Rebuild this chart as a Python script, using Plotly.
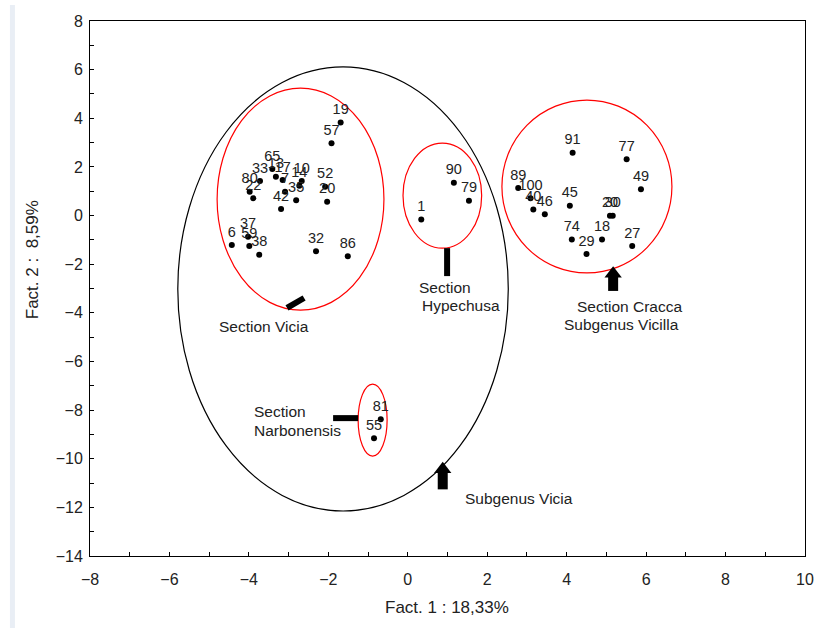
import plotly.graph_objects as go

# ---- data ----
point_labels = ["19", "57", "65", "33", "13", "17", "10", "14", "7", "35", "42", "52", "20",
                "80", "22", "6", "37", "59", "38", "32", "86",
                "1", "90", "79",
                "91", "77", "49", "89", "100", "40", "46", "45", "20", "30", "74", "18", "29", "27",
                "81", "55"]
fact1 = [-1.69, -1.92, -3.41, -3.72, -3.32, -3.15, -2.67, -2.73, -3.09, -2.81, -3.19, -2.08, -2.03,
         -3.98, -3.89, -4.43, -4.02, -3.99, -3.74, -2.31, -1.51,
         0.34, 1.16, 1.54,
         4.15, 5.51, 5.87, 2.78, 3.09, 3.16, 3.45, 4.08, 5.09, 5.16, 4.13, 4.89, 4.50, 5.65,
         -0.68, -0.85]
fact2 = [3.83, 2.97, 1.91, 1.42, 1.60, 1.46, 1.42, 1.23, 0.98, 0.63, 0.27, 1.18, 0.57,
         0.98, 0.71, -1.21, -0.87, -1.25, -1.61, -1.47, -1.67,
         -0.16, 1.35, 0.61,
         2.58, 2.32, 1.08, 1.13, 0.71, 0.25, 0.05, 0.40, -0.01, -0.01, -0.98, -0.98, -1.58, -1.25,
         -8.38, -9.16]

# ellipses: x0, x1, y0, y1, colour
ellipse_x0 = [-5.79, -4.80, -0.12, 2.37, -1.25]
ellipse_x1 = [2.53, -0.60, 1.86, 6.65, -0.52]
ellipse_y0 = [-12.15, -3.89, -1.34, -2.36, -9.89]
ellipse_y1 = [6.11, 5.24, 2.98, 4.75, -6.93]
ellipse_col = ["black", "red", "red", "red", "red"]

# pointer lines / arrows: tail -> tip
arrow_x0 = [-3.04, 0.99, -1.88, 5.17, 0.88]
arrow_y0 = [-3.80, -2.49, -8.33, -3.10, -11.26]
arrow_x1 = [-2.61, 0.99, -1.25, 5.17, 0.88]
arrow_y1 = [-3.39, -1.34, -8.33, -2.08, -10.12]
arrow_head = [False, False, False, True, True]

# group captions (one entry per line)
caption_text = ["Section Vicia", "Section", "Hypechusa", "Section Cracca", "Subgenus Vicilla",
                "Section", "Narbonensis", "Subgenus Vicia"]
caption_x = [-4.80, 0.22, 0.30, 4.21, 3.88, -3.92, -3.92, 1.39]
caption_y = [-4.58, -2.94, -3.68, -3.72, -4.50, -8.04, -8.82, -11.62]

x_title = "Fact. 1 : 18,33%"
y_title = "Fact. 2 :  8,59%"

FONT = "Liberation Sans, Arial, sans-serif"
TXT = "#222222"

fig = go.Figure()

# ellipses
for x0, x1, y0, y1, c in zip(ellipse_x0, ellipse_x1, ellipse_y0, ellipse_y1, ellipse_col):
    fig.add_shape(type="circle", xref="x", yref="y", x0=x0, x1=x1, y0=y0, y1=y1,
                  line=dict(color=c, width=1.2), layer="below")

# arrows / pointer bars
px_per_y = 535 / 22.0
for xa, ya, xb, yb, head in zip(arrow_x0, arrow_y0, arrow_x1, arrow_y1, arrow_head):
    if head:
        size = 15
        r = size / 2.0
        yc = yb - r / px_per_y            # marker centre so that tip sits at yb
        yshaft = yb - 9 / px_per_y
        fig.add_trace(go.Scatter(x=[xa, xb], y=[ya, yshaft], mode="lines",
                                 line=dict(color="black", width=10),
                                 hoverinfo="skip", showlegend=False))
        fig.add_trace(go.Scatter(x=[xb], y=[yc], mode="markers",
                                 marker=dict(symbol="triangle-up", size=size, color="black",
                                             line=dict(width=0)),
                                 hoverinfo="skip", showlegend=False))
    else:
        fig.add_trace(go.Scatter(x=[xa, xb], y=[ya, yb], mode="lines",
                                 line=dict(color="black", width=6),
                                 hoverinfo="skip", showlegend=False))

# points with labels
fig.add_trace(go.Scatter(x=fact1, y=fact2, mode="markers+text", text=point_labels,
                         textposition="top center",
                         textfont=dict(family=FONT, size=14.5, color=TXT),
                         marker=dict(size=6, color="black"),
                         showlegend=False))

# captions
for t, x, y in zip(caption_text, caption_x, caption_y):
    fig.add_annotation(x=x, y=y, xref="x", yref="y", text=t, showarrow=False,
                       xanchor="left", yanchor="middle",
                       font=dict(family=FONT, size=15.5, color=TXT))

# axis titles
fig.add_annotation(x=0.499, y=-0.097, xref="paper", yref="paper", text=x_title,
                   showarrow=False, xanchor="center", yanchor="middle",
                   font=dict(family=FONT, size=17, color=TXT))
fig.add_annotation(x=-0.081, y=0.553, xref="paper", yref="paper", text=y_title,
                   showarrow=False, textangle=-90, xanchor="center", yanchor="middle",
                   font=dict(family=FONT, size=17, color=TXT))

# light strip at far left
fig.add_shape(type="rect", xref="paper", yref="paper", x0=-0.112, x1=-0.105,
              y0=-0.14, y1=1.03, fillcolor="#e9eef5", line=dict(width=0), layer="below")

axis_common = dict(showgrid=False, zeroline=False, showline=True, linecolor="black",
                   linewidth=1, mirror=True, ticks="inside", ticklen=4, tickcolor="black",
                   automargin=False,
                   tickfont=dict(family=FONT, size=16, color=TXT),
                   minor=dict(ticks="inside", ticklen=4, tickcolor="black", dtick=1))

fig.update_xaxes(range=[-8, 10], dtick=2, tick0=-8, ticklabelstandoff=9, **axis_common)
fig.update_yaxes(range=[-14, 8], dtick=2, tick0=-14, ticklabelstandoff=3, **axis_common)

fig.update_layout(width=815, height=628, margin=dict(l=90, r=10, t=21, b=72),
                  paper_bgcolor="white", plot_bgcolor="white",
                  font=dict(family=FONT, color=TXT))

fig.write_html("out.html")
